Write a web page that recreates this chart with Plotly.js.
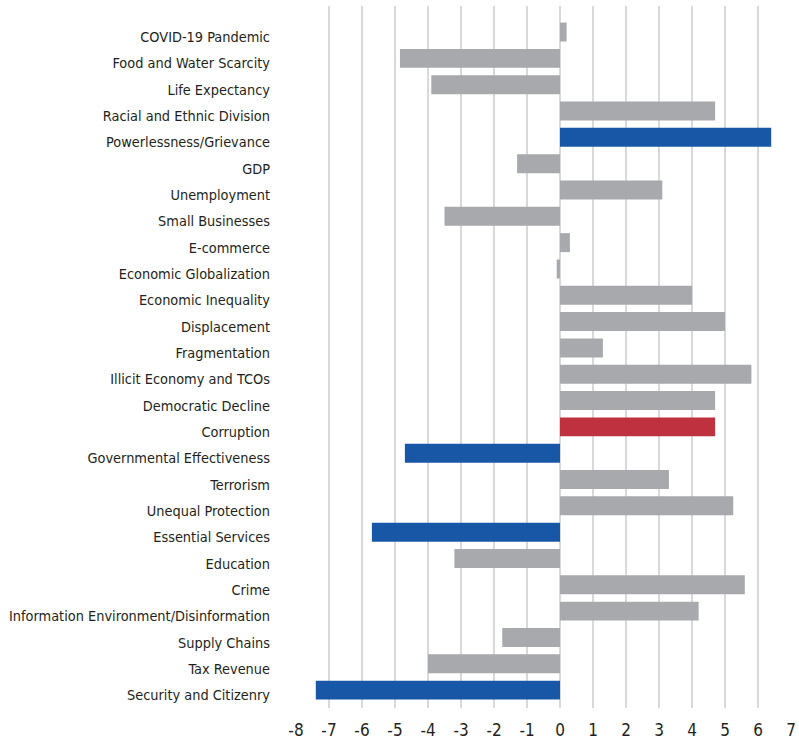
<!DOCTYPE html>
<html>
<head>
<meta charset="utf-8">
<script src="https://cdn.plot.ly/plotly-3.0.1.min.js"></script>
<style>html,body{margin:0;padding:0;background:#fff;}#chart{width:799px;height:741px;}</style>
</head>
<body>
<div id="chart"></div>
<script>
const categories = [
  "COVID-19 Pandemic","Food and Water Scarcity","Life Expectancy","Racial and Ethnic Division",
  "Powerlessness/Grievance","GDP","Unemployment","Small Businesses","E-commerce",
  "Economic Globalization","Economic Inequality","Displacement","Fragmentation",
  "Illicit Economy and TCOs","Democratic Decline","Corruption","Governmental Effectiveness",
  "Terrorism","Unequal Protection","Essential Services","Education","Crime",
  "Information Environment/Disinformation","Supply Chains","Tax Revenue","Security and Citizenry"
];
const values = [
  0.2, -4.85, -3.9, 4.7,
  6.4, -1.3, 3.1, -3.5, 0.3,
  -0.1, 4.0, 5.0, 1.3,
  5.8, 4.7, 4.7, -4.7,
  3.3, 5.25, -5.7, -3.2, 5.6,
  4.2, -1.75, -4.0, -7.4
];
const highlight = {
  "Powerlessness/Grievance": "#1857a6",
  "Governmental Effectiveness": "#1857a6",
  "Essential Services": "#1857a6",
  "Security and Citizenry": "#1857a6",
  "Corruption": "#bf313f"
};
const xTicks = [-8,-7,-6,-5,-4,-3,-2,-1,0,1,2,3,4,5,6,7];
const colors = categories.map(c => highlight[c] || "#a8a9ad");

const font = "'Liberation Sans Narrow', 'DejaVu Sans Condensed', Arial, sans-serif";

Plotly.newPlot("chart", [{
  type: "bar",
  orientation: "h",
  y: categories,
  x: values,
  marker: {color: colors, line: {width: 0}},
  hoverinfo: "x+y"
}], {
  width: 799, height: 741,
  margin: {l: 295, r: 7, t: 6, b: 33},
  paper_bgcolor: "#fff", plot_bgcolor: "#fff",
  bargap: 0.28,
  showlegend: false,
  font: {family: font, size: 14.4, color: "#231f20"},
  xaxis: {
    range: [-8.03, 7.03],
    tickvals: xTicks,
    ticktext: xTicks.map(String),
    showgrid: true, gridcolor: "#d9d9d9", gridwidth: 2,
    zeroline: false, showline: false, ticks: "",
    ticklabelstandoff: 10,
    tickfont: {family: font, size: 17, color: "#231f20"}
  },
  yaxis: {
    type: "category",
    range: [25.68, -0.99],
    showgrid: false, zeroline: false, showline: false, ticks: "",
    ticklabelstandoff: 24,
    ticklabelshift: -5,
    tickfont: {family: font, size: 14.4, color: "#231f20"}
  }
}, {displayModeBar: false, staticPlot: true});
</script>
</body>
</html>
